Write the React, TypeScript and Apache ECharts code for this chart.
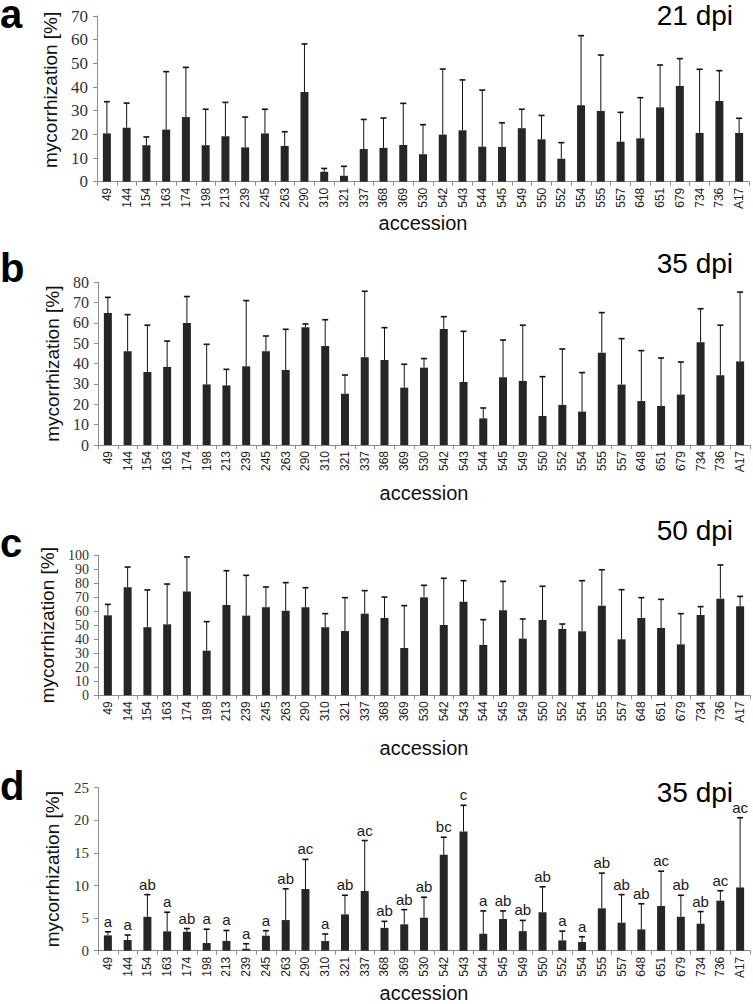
import React, { useEffect, useRef } from "react";
import * as echarts from "echarts";

const accessions = ["49","144","154","163","174","198","213","239","245","263","290","310","321","337","368","369","530","542","543","544","545","549","550","552","554","555","557","648","651","679","734","736","A17"];

// panel a, 21 dpi: mean and mean + SD (upper end of whisker)
const mean21 = [20.4,22.8,15.4,22.0,27.3,15.4,19.2,14.5,20.4,15.1,37.9,4.2,2.5,13.8,14.3,15.5,11.6,19.9,21.7,14.8,14.7,22.6,17.9,9.7,32.3,29.9,16.9,18.3,31.4,40.4,20.6,34.1,20.6];
const upper21 = [33.8,33.2,18.9,46.5,48.3,30.6,33.5,27.3,30.6,21.1,58.2,5.6,6.5,26.3,26.9,33.1,24.1,47.6,43.0,38.7,24.9,30.6,28.0,16.5,61.7,53.5,29.3,35.5,49.3,52.0,47.5,46.9,26.8];

// panel b, 35 dpi
const mean35 = [64.9,46.1,35.9,38.4,60.0,29.8,29.3,38.7,46.1,36.9,57.9,48.7,25.2,43.1,41.8,28.2,38.0,57.0,31.0,13.1,33.3,31.5,14.3,19.7,16.4,45.4,29.7,21.6,19.2,24.8,50.5,34.3,41.1];
const upper35 = [72.6,64.1,58.9,51.1,73.0,49.5,37.2,71.0,53.6,56.9,59.5,61.6,34.4,75.6,57.7,39.7,42.5,63.1,55.9,18.2,51.6,58.9,33.6,47.2,35.6,65.1,52.3,46.4,42.8,40.8,67.0,58.9,75.2];

// panel c, 50 dpi
const mean50 = [57.0,77.0,48.5,50.6,73.9,31.8,64.4,56.8,62.7,60.3,62.7,48.5,45.8,58.2,55.1,33.7,69.8,50.1,66.7,35.9,60.6,40.4,53.7,47.3,45.6,63.9,39.9,55.1,48.0,36.3,57.2,68.9,63.4];
const upper50 = [64.8,91.4,75.1,79.3,98.6,52.5,88.8,85.5,77.2,80.3,76.7,58.2,69.6,74.6,70.0,63.9,78.4,83.4,81.7,53.9,81.2,54.4,77.7,50.8,81.7,89.5,75.3,69.6,68.4,58.2,63.2,92.9,70.5];

// panel d, 35 dpi (second experiment)
const meanD = [2.35,1.64,5.2,2.97,2.9,1.18,1.5,0.3,2.3,4.7,9.46,1.48,5.57,9.15,3.5,4.04,5.06,14.7,18.3,2.6,4.86,3.0,5.9,1.58,1.33,6.5,4.3,3.27,6.85,5.2,4.14,7.67,9.7];
const upperD = [2.9,2.4,8.6,5.9,3.4,3.3,3.1,1.07,3.07,9.5,14.0,2.56,8.5,16.9,4.5,6.3,8.2,17.4,22.3,6.1,6.1,4.65,9.8,3.0,2.15,11.9,8.6,7.2,12.2,8.5,6.0,9.2,20.4];
const lettersD = ["a","a","ab","a","ab","a","a","a","a","ab","ac","a","ab","ac","ab","ab","ab","bc","c","a","ab","ab","ab","a","a","ab","ab","ab","ac","ab","ab","ac","ac"];

const panelLetters = ["a", "b", "c", "d"];
const panelTitles = ["21 dpi", "35 dpi", "50 dpi", "35 dpi"];
const yMax = [70, 80, 100, 25];
const yStep = [10, 10, 10, 5];
const yName = "mycorrhization [%]";
const xName = "accession";

const SANS = "'Liberation Sans', Arial, sans-serif";
const SERIF = "'Liberation Serif', 'Times New Roman', serif";
const AXIS_GRAY = "#8c8c8c";

const grids = [
  { left: 97, width: 652, top: 16, height: 165.7 },
  { left: 98, width: 652, top: 282.3, height: 162.7 },
  { left: 98, width: 652, top: 555, height: 140.3 },
  { left: 98, width: 652, top: 787.7, height: 163 },
];
const tickFont = [17, 16, 14, 15];
const xNameGap = [28, 38, 43, 32];
const yNamePad = [[0, 0, 0, 18], 0, 0, 0];
const letterY = [14, 268, 543, 786];
const titleY = [15, 263, 530, 792];

function errorSeries(idx: number, means: number[], uppers: number[]) {
  return {
    type: "custom",
    xAxisIndex: idx,
    yAxisIndex: idx,
    silent: true,
    z: 3,
    data: means.map((m, i) => [i, m, uppers[i]]),
    encode: { x: 0, y: [1, 2] },
    renderItem: (params: any, api: any) => {
      const x = api.value(0);
      const p0 = api.coord([x, api.value(1)]);
      const p1 = api.coord([x, api.value(2)]);
      const hw = 3;
      return {
        type: "group",
        children: [
          { type: "line", shape: { x1: p0[0], y1: p0[1], x2: p1[0], y2: p1[1] }, style: { stroke: "#111", lineWidth: 1 } },
          { type: "line", shape: { x1: p1[0] - hw, y1: p1[1], x2: p1[0] + hw, y2: p1[1] }, style: { stroke: "#111", lineWidth: 1.6 } },
        ],
      };
    },
  };
}

export default function App() {
  const ref = useRef<HTMLDivElement>(null);
  useEffect(() => {
    if (!ref.current) return;
    const chart = echarts.init(ref.current, undefined, { renderer: "svg" });
    const means = [mean21, mean35, mean50, meanD];
    const uppers = [upper21, upper35, upper50, upperD];

    const xAxis = grids.map((_, i) => ({
      type: "category",
      gridIndex: i,
      data: accessions,
      name: xName,
      nameLocation: "middle",
      nameGap: xNameGap[i],
      nameTextStyle: { fontFamily: SANS, fontSize: 20, color: "#111" },
      axisLine: { lineStyle: { color: AXIS_GRAY, width: 1 } },
      axisTick: { show: true, length: 4, lineStyle: { color: AXIS_GRAY } },
      axisLabel: { interval: 0, rotate: 90, margin: 6, fontFamily: SANS, fontSize: 12, color: "#222" },
    }));
    const yAxis = grids.map((_, i) => ({
      type: "value",
      gridIndex: i,
      min: 0,
      max: yMax[i],
      interval: yStep[i],
      name: yName,
      nameLocation: "middle",
      nameGap: 36,
      nameTextStyle: { fontFamily: SANS, fontSize: 19, color: "#111", padding: yNamePad[i] },
      axisLine: { show: true, lineStyle: { color: AXIS_GRAY, width: 1 } },
      axisTick: { show: true, length: 4, lineStyle: { color: AXIS_GRAY } },
      splitLine: { show: false },
      axisLabel: { margin: 9, fontFamily: SERIF, fontSize: tickFont[i], color: "#333" },
    }));

    const series: any[] = [];
    means.forEach((m, i) => {
      series.push({
        type: "bar",
        xAxisIndex: i,
        yAxisIndex: i,
        data: m,
        barWidth: 8,
        itemStyle: { color: "#262626" },
        silent: true,
      });
      series.push(errorSeries(i, m, uppers[i]));
    });
    series.push({
      type: "custom",
      xAxisIndex: 3,
      yAxisIndex: 3,
      silent: true,
      z: 4,
      data: upperD.map((u, i) => [i, u]),
      encode: { x: 0, y: 1 },
      renderItem: (params: any, api: any) => {
        const p = api.coord([api.value(0), api.value(1)]);
        return {
          type: "text",
          x: p[0],
          y: p[1] - 3,
          style: {
            text: lettersD[params.dataIndex],
            align: "center",
            verticalAlign: "bottom",
            textAlign: "center",
            textVerticalAlign: "bottom",
            fontFamily: SANS,
            fontSize: 15,
            fill: "#1a1a1a",
          },
        };
      },
    });

    const graphic: any[] = [];
    panelLetters.forEach((l, i) => {
      graphic.push({
        type: "text",
        x: 0,
        y: letterY[i],
        style: { text: l, fontFamily: SANS, fontWeight: "bold", fontSize: 40, lineHeight: 28, fill: "#000", textAlign: "left", textVerticalAlign: "middle", verticalAlign: "middle" },
      });
    });
    panelTitles.forEach((t, i) => {
      graphic.push({
        type: "text",
        x: 733,
        y: titleY[i],
        style: { text: t, fontFamily: SANS, fontSize: 28, fill: "#000", textAlign: "right", align: "right", textVerticalAlign: "middle", verticalAlign: "middle" },
      });
    });

    chart.setOption({
      animation: false,
      backgroundColor: "#fff",
      grid: grids.map((g) => ({ ...g, containLabel: false })),
      xAxis,
      yAxis,
      series,
      graphic,
    });
    return () => chart.dispose();
  }, []);
  return (
    <div
      ref={ref}
      style={{ position: "fixed", left: 0, top: 0, width: 753, height: 1004, background: "#fff" }}
    />
  );
}
